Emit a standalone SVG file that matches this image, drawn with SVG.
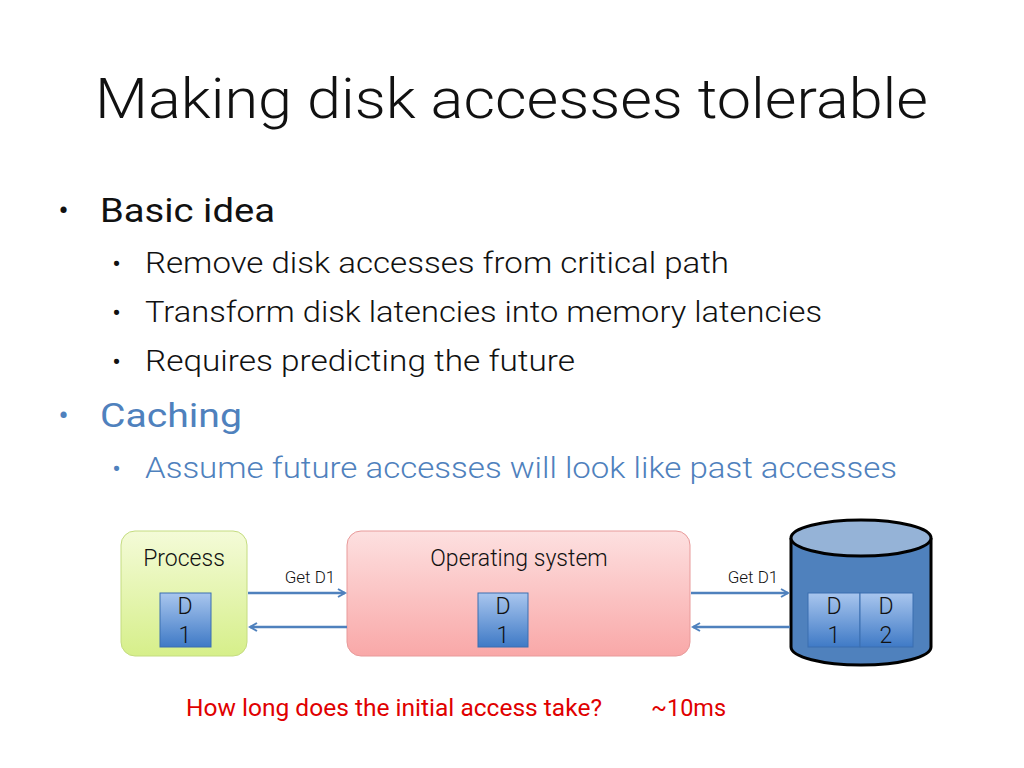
<svg xmlns="http://www.w3.org/2000/svg" width="1024" height="768" viewBox="0 0 1024 768">
<defs>
<style>
.t{font-family:Roboto,"Liberation Sans",sans-serif;font-weight:300;}
.blk{stroke:#3a6fb0;stroke-width:1}
.bt{font-family:Roboto,"Liberation Sans",sans-serif;font-weight:300;font-size:23px;fill:#111;text-anchor:middle}
.ar{stroke:#4f81bd;stroke-width:2.5;fill:none;marker-end:url(#ah)}
</style>
<linearGradient id="gp" x1="0" y1="0" x2="0" y2="1"><stop offset="0" stop-color="#f4fbd8"/><stop offset="1" stop-color="#d6ef8a"/></linearGradient>
<linearGradient id="go" x1="0" y1="0" x2="0" y2="1"><stop offset="0" stop-color="#fde0e0"/><stop offset="1" stop-color="#f9a8a8"/></linearGradient>
<linearGradient id="gb" x1="0" y1="0" x2="0" y2="1"><stop offset="0" stop-color="#a9c6ee"/><stop offset="1" stop-color="#3f7ac6"/></linearGradient>
<marker id="ah" markerWidth="10" markerHeight="10" refX="8" refY="5" orient="auto" markerUnits="userSpaceOnUse"><path d="M1,1 L8,5 L1,9" fill="none" stroke="#4f81bd" stroke-width="2"/></marker>
</defs>
<rect width="1024" height="768" fill="#fff"/>
<text class="t" x="95" y="118" font-size="56" textLength="833" lengthAdjust="spacingAndGlyphs" fill="#111">Making disk accesses tolerable</text>
<g class="t" fill="#111">
<text x="58" y="222" font-size="34">•</text><text x="100" y="222" font-size="34" font-weight="400" textLength="175" lengthAdjust="spacingAndGlyphs">Basic idea</text>
<text x="112" y="273" font-size="28">•</text><text x="145" y="273" font-size="30" textLength="584" lengthAdjust="spacingAndGlyphs">Remove disk accesses from critical path</text>
<text x="112" y="322" font-size="28">•</text><text x="145" y="322" font-size="30" textLength="677" lengthAdjust="spacingAndGlyphs">Transform disk latencies into memory latencies</text>
<text x="112" y="371" font-size="28">•</text><text x="145" y="371" font-size="30" textLength="430" lengthAdjust="spacingAndGlyphs">Requires predicting the future</text>
</g>
<g class="t" fill="#4f81bd">
<text x="58" y="427" font-size="34">•</text><text x="100" y="427" font-size="34" font-weight="400" textLength="142" lengthAdjust="spacingAndGlyphs">Caching</text>
<text x="112" y="478" font-size="28">•</text><text x="145" y="478" font-size="30" textLength="752" lengthAdjust="spacingAndGlyphs">Assume future accesses will look like past accesses</text>
</g>
<g id="process">
<rect x="121" y="531" width="126" height="125" rx="14" fill="url(#gp)" stroke="#c4dc80"/>
<text class="t" x="184" y="566" font-size="23" text-anchor="middle" fill="#111">Process</text>
<rect class="blk" x="160" y="593" width="51" height="54" fill="url(#gb)"/>
<text class="bt" x="185" y="614">D</text><text class="bt" x="185" y="643">1</text>
</g>
<g id="os">
<rect x="347" y="531" width="343" height="125" rx="14" fill="url(#go)" stroke="#e89a9a"/>
<text class="t" x="519" y="566" font-size="23" text-anchor="middle" fill="#111">Operating system</text>
<rect class="blk" x="478" y="593" width="50" height="54" fill="url(#gb)"/>
<text class="bt" x="503" y="614">D</text><text class="bt" x="503" y="643">1</text>
</g>
<g id="disk">
<path d="M791,538 V647 A70,18 0 0 0 931,647 V538" fill="#4f81bd" stroke="#000" stroke-width="3"/>
<ellipse cx="861" cy="538" rx="70" ry="18" fill="#95b3d7" stroke="#000" stroke-width="3"/>
<rect class="blk" x="808" y="593" width="52" height="54" fill="url(#gb)"/>
<rect class="blk" x="860" y="593" width="53" height="54" fill="url(#gb)"/>
<text class="bt" x="834" y="614">D</text><text class="bt" x="834" y="643">1</text>
<text class="bt" x="886" y="614">D</text><text class="bt" x="886" y="643">2</text>
</g>
<g id="connectors">
<line class="ar" x1="248" y1="593" x2="345" y2="593"/>
<line class="ar" x1="347" y1="627" x2="250" y2="627"/>
<line class="ar" x1="691" y1="593" x2="788" y2="593"/>
<line class="ar" x1="790" y1="627" x2="693" y2="627"/>
<text class="t" x="310" y="583" font-size="17" font-weight="400" text-anchor="middle" fill="#111">Get D1</text>
<text class="t" x="753" y="583" font-size="17" font-weight="400" text-anchor="middle" fill="#111">Get D1</text>
</g>
<text x="186" y="716" font-family="Roboto,'Liberation Sans',sans-serif" font-size="23" textLength="416" lengthAdjust="spacingAndGlyphs" fill="#e00000">How long does the initial access take?</text>
<text x="651" y="716" font-family="Roboto,'Liberation Sans',sans-serif" font-size="23" textLength="75" lengthAdjust="spacingAndGlyphs" fill="#e00000">~10ms</text>
</svg>
